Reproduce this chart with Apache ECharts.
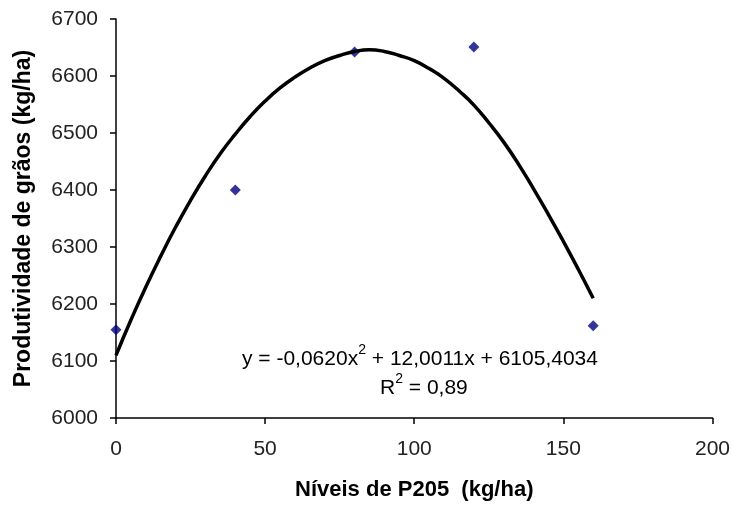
<!DOCTYPE html>
<html>
<head>
<meta charset="utf-8">
<script src="https://cdn.jsdelivr.net/npm/echarts@6/dist/echarts.min.js"></script>
<style>html,body{margin:0;padding:0;background:#fff;}#c{width:733px;height:508px;}</style>
</head>
<body>
<div id="c"></div>
<script>
// Observed points
var obsX = [0, 40, 80, 120, 160];
var obsY = [6155, 6400, 6642, 6651, 6162];
// Trend curve
var curveX = [0, 5, 10, 15, 20, 25, 30, 35, 40, 45, 50, 55, 60, 65, 70, 75, 80, 85, 90, 95, 100, 105, 110, 115, 120, 125, 130, 135, 140, 145, 150, 155, 160];
var curveY = [6110, 6172, 6230, 6284, 6335, 6382, 6425, 6464, 6498, 6529, 6556, 6579, 6598, 6614, 6627, 6636, 6643, 6646, 6643, 6636, 6627, 6613, 6596, 6574, 6549, 6518, 6484, 6445, 6402, 6357, 6310, 6261, 6210];
var xTicks = [0, 50, 100, 150, 200];
var yTicks = [6000, 6100, 6200, 6300, 6400, 6500, 6600, 6700];
var eqParts = ['y = -0,0620x', '2', ' + 12,0011x + 6105,4034'];
var r2Parts = ['R', '2', ' = 0,89'];

var font = 'Liberation Sans, Arial, sans-serif';
var chart = echarts.init(document.getElementById('c'));
var rich = {
  n: {fontFamily: font, fontSize: 21, color: '#111', lineHeight: 27, verticalAlign: 'bottom'},
  s: {fontFamily: font, fontSize: 14, color: '#111', lineHeight: 14, verticalAlign: 'top'}
};
chart.setOption({
  animation: false,
  backgroundColor: '#fff',
  grid: {left: 116, right: 20, top: 19, bottom: 90, containLabel: false},
  xAxis: {
    type: 'value', min: xTicks[0], max: xTicks[xTicks.length - 1], interval: 50,
    name: 'Níveis de P205  (kg/ha)', nameLocation: 'middle', nameGap: 61,
    nameTextStyle: {fontFamily: font, fontWeight: 'bold', fontSize: 22, color: '#000'},
    axisLine: {lineStyle: {color: '#000', width: 1.5}},
    axisTick: {show: true, length: 6, lineStyle: {color: '#000', width: 1.5}},
    axisLabel: {fontFamily: font, fontSize: 21, color: '#222', margin: 21},
    splitLine: {show: false}
  },
  yAxis: {
    type: 'value', min: yTicks[0], max: yTicks[yTicks.length - 1], interval: 100,
    name: 'Produtividade de grãos (kg/ha)', nameLocation: 'middle', nameGap: 81,
    nameTextStyle: {fontFamily: font, fontWeight: 'bold', fontSize: 23, color: '#000'},
    axisLine: {show: true, lineStyle: {color: '#000', width: 1.5}},
    axisTick: {show: true, length: 6, lineStyle: {color: '#000', width: 1.5}},
    axisLabel: {fontFamily: font, fontSize: 21, color: '#222', margin: 18,
      formatter: function (v) { return String(v); }},
    splitLine: {show: false}
  },
  graphic: [
    {type: 'text', left: 242, top: 343, style: {
      text: '{n|' + eqParts[0] + '}{s|' + eqParts[1] + '}{n|' + eqParts[2] + '}', rich: rich}},
    {type: 'text', left: 380, top: 372, style: {
      text: '{n|' + r2Parts[0] + '}{s|' + r2Parts[1] + '}{n|' + r2Parts[2] + '}', rich: rich}}
  ],
  series: [
    {
      type: 'scatter', symbol: 'diamond', symbolSize: 11, z: 2,
      itemStyle: {color: '#000080'},
      data: obsX.map(function (x, i) { return [x, obsY[i]]; })
    },
    {
      type: 'line', smooth: true, showSymbol: false, symbol: 'none', z: 3,
      lineStyle: {color: '#000', width: 3.5},
      data: curveX.map(function (x, i) { return [x, curveY[i]]; })
    }
  ]
});
</script>
</body>
</html>
